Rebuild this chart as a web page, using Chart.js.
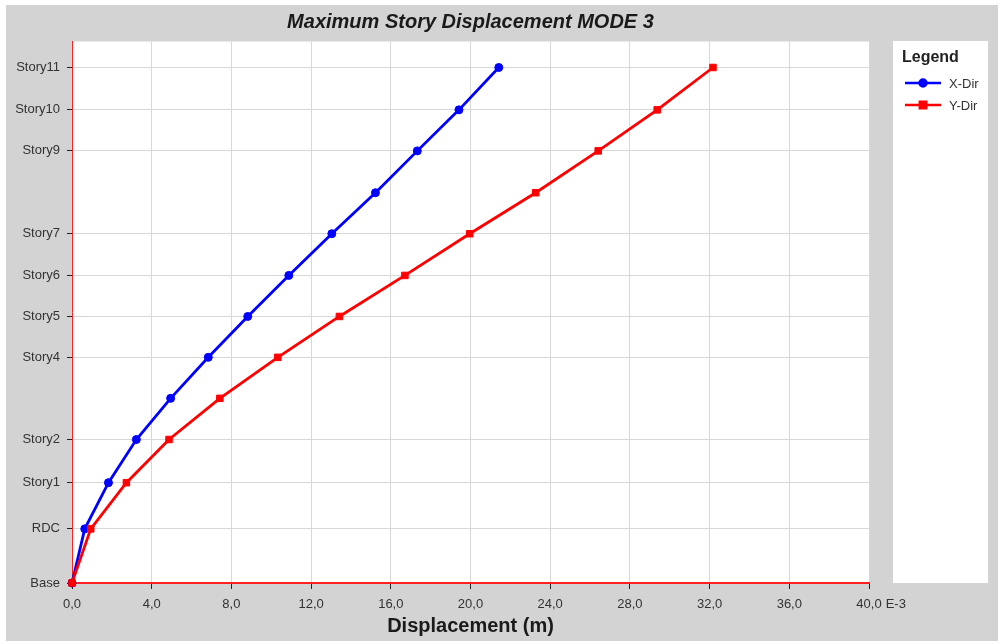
<!DOCTYPE html>
<html lang="en">
<head>
    <meta charset="UTF-8">
    <title>Maximum Story Displacement MODE 3</title>
    <style>
        body { margin: 0; background: #fff; }
        #wrap { width: 1003px; height: 644px; }
    </style>
    <script src="https://cdn.jsdelivr.net/npm/chart.js"></script>
</head>
<body>
    <div id="wrap">
        <canvas id="myChart" width="1003" height="644"></canvas>
    </div>

    <script>
        // Stories and their elevations (m)
        const storyNames = ['Base', 'RDC', 'Story1', 'Story2', 'Story3', 'Story4', 'Story5', 'Story6', 'Story7', 'Story8', 'Story9', 'Story10', 'Story11'];
        const storyElev = [0, 4.0, 7.41, 10.6, 13.64, 16.67, 19.69, 22.72, 25.8, 28.83, 31.92, 34.95, 38.08];
        // Only these stories carry a label and a grid line
        const labeledStories = ['Base', 'RDC', 'Story1', 'Story2', 'Story4', 'Story5', 'Story6', 'Story7', 'Story9', 'Story10', 'Story11'];

        // Displacements, E-3 m
        const xDir = [0, 0.64, 1.83, 3.23, 4.95, 6.84, 8.82, 10.88, 13.04, 15.23, 17.33, 19.42, 21.42];
        const yDir = [0, 0.94, 2.73, 4.87, 7.42, 10.33, 13.42, 16.71, 19.96, 23.27, 26.41, 29.37, 32.17];

        const fontFam = '"Liberation Sans", Arial, sans-serif';

        function toPoints(values) {
            return values.map((v, i) => ({ x: v, y: storyElev[i] }));
        }

        // gray frame, white plot area, legend box and the E-3 suffix
        const framePlugin = {
            id: 'frame',
            beforeDraw(chart) {
                const ctx = chart.ctx;
                const a = chart.chartArea;
                ctx.save();
                ctx.fillStyle = '#ffffff';
                ctx.fillRect(0, 0, chart.width, chart.height);
                ctx.fillStyle = '#d3d3d3';
                ctx.fillRect(6, 5, 992, 636);
                ctx.fillStyle = '#ffffff';
                ctx.fillRect(a.left, a.top, a.right - a.left, a.bottom - a.top);
                ctx.fillRect(893, 41, 95, 542);
                ctx.restore();
            },
            afterDraw(chart) {
                const ctx = chart.ctx;
                ctx.save();
                // legend
                ctx.fillStyle = '#222';
                ctx.font = 'bold 16px ' + fontFam;
                ctx.textBaseline = 'alphabetic';
                ctx.fillText('Legend', 902, 62);
                chart.data.datasets.forEach((ds, i) => {
                    const y = 83 + i * 22;
                    ctx.strokeStyle = ds.borderColor;
                    ctx.lineWidth = 2.5;
                    ctx.beginPath();
                    ctx.moveTo(905, y);
                    ctx.lineTo(941, y);
                    ctx.stroke();
                    Chart.helpers.drawPoint(ctx, {
                        pointStyle: ds.pointStyle, radius: ds.pointStyle === 'rect' ? 4.5 : 3.5,
                        borderWidth: 1, rotation: 0
                    }, 923, y);
                    ctx.fillStyle = ds.borderColor;
                    ctx.fill();
                    ctx.fillStyle = '#333';
                    ctx.font = '13px ' + fontFam;
                    ctx.textBaseline = 'middle';
                    ctx.fillText(ds.label, 949, y + 1);
                });
                // exponent after the last x tick
                const xs = chart.scales.x;
                ctx.font = '13px ' + fontFam;
                ctx.fillStyle = '#333';
                ctx.textBaseline = 'middle';
                const px = xs.getPixelForValue(40) + ctx.measureText('40,0').width / 2 + 4;
                ctx.fillText('E-3', px, xs.top + 6 + 8 + 7.8);
                ctx.restore();
            }
        };

        const ctx = document.getElementById('myChart').getContext('2d');
        const myChart = new Chart(ctx, {
            type: 'line',
            data: {
                datasets: [{
                    label: 'X-Dir',
                    data: toPoints(xDir),
                    borderColor: '#0000ff',
                    backgroundColor: '#0000ff',
                    pointStyle: 'circle',
                    pointRadius: 4,
                    borderWidth: 2.8,
                    pointBorderWidth: 1,
                    order: 1,
                    clip: false
                }, {
                    label: 'Y-Dir',
                    data: toPoints(yDir),
                    borderColor: '#ff0000',
                    backgroundColor: '#ff0000',
                    pointStyle: 'rect',
                    pointRadius: 4.6,
                    borderWidth: 2.8,
                    pointBorderWidth: 1,
                    order: 0,
                    clip: false
                }]
            },
            options: {
                responsive: false,
                animation: false,
                devicePixelRatio: 1,
                tension: 0,
                layout: { padding: { left: 0, right: 134, top: 0, bottom: 0 } },
                plugins: {
                    legend: { display: false },
                    tooltip: { enabled: false },
                    title: {
                        display: true,
                        fullSize: false,
                        text: 'Maximum Story Displacement MODE 3',
                        color: '#1a1a1a',
                        font: { family: fontFam, size: 20, weight: 'bold', style: 'italic' },
                        padding: { top: 10, bottom: 7.5 }
                    }
                },
                scales: {
                    x: {
                        type: 'linear',
                        min: 0,
                        max: 40,
                        afterFit(scale) { scale.height = 61; },
                        ticks: {
                            stepSize: 4,
                            padding: 8,
                            color: '#333',
                            font: { family: fontFam, size: 13 },
                            callback: v => v.toFixed(1).replace('.', ',')
                        },
                        grid: { color: '#d8d8d8', tickColor: '#222', tickLength: 6 },
                        border: { color: '#ff2020', width: 2 },
                        title: {
                            display: true,
                            text: 'Displacement (m)',
                            color: '#1a1a1a',
                            font: { family: fontFam, size: 20, weight: 'bold' },
                            padding: { top: 0, bottom: 6 }
                        }
                    },
                    y: {
                        type: 'linear',
                        min: 0,
                        max: 40,
                        afterFit(scale) { scale.width = 72; },
                        afterBuildTicks(scale) {
                            scale.ticks = labeledStories.map(n => ({ value: storyElev[storyNames.indexOf(n)] }));
                        },
                        ticks: {
                            autoSkip: false,
                            padding: 7,
                            color: '#333',
                            font: { family: fontFam, size: 13 },
                            callback: v => storyNames[storyElev.indexOf(v)]
                        },
                        grid: { color: '#d8d8d8', tickColor: '#222', tickLength: 5 },
                        border: { color: '#ff2020', width: 1 }
                    }
                }
            },
            plugins: [framePlugin]
        });
    </script>
</body>
</html>
